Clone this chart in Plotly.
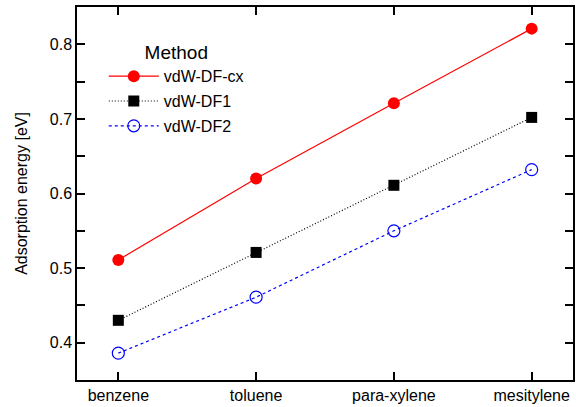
import plotly.graph_objects as go

molecules = ["benzene", "toluene", "para-xylene", "mesitylene"]
vdw_df_cx = [0.511, 0.620, 0.721, 0.821]
vdw_df1 = [0.430, 0.521, 0.611, 0.702]
vdw_df2 = [0.386, 0.461, 0.550, 0.632]

fig = go.Figure()
fig.add_trace(go.Scatter(x=molecules, y=vdw_df_cx, name="vdW-DF-cx", mode="lines+markers",
                         legendgroup="a",
                         line=dict(color="#ff0000", width=1.2, dash="solid"),
                         marker=dict(symbol="circle", size=12, color="#ff0000")))
fig.add_trace(go.Scatter(x=molecules, y=vdw_df1, name="vdW-DF1", mode="lines+markers",
                         legendgroup="b",
                         line=dict(color="#000000", width=1.2, dash="1px,2px"),
                         marker=dict(symbol="square", size=11, color="#000000")))
fig.add_trace(go.Scatter(x=molecules, y=vdw_df2, name="vdW-DF2", mode="lines+markers",
                         legendgroup="c",
                         line=dict(color="#0000ff", width=1.2, dash="3px,3px"),
                         marker=dict(symbol="circle-open", size=12, color="#0000ff",
                                     line=dict(width=1.2, color="#0000ff"))))

fig.update_layout(
    width=576, height=407,
    margin=dict(l=77, r=1, t=7, b=27),
    paper_bgcolor="white", plot_bgcolor="white",
    font=dict(family="Liberation Sans, Arial, sans-serif", size=16, color="black"),
    showlegend=True,
    legend=dict(x=0.054, y=0.926, xanchor="left", yanchor="top",
                title=dict(text="Method", side="top center"),
                bgcolor="rgba(0,0,0,0)", font=dict(size=16), itemwidth=50,
                tracegroupgap=1),
)
fig.update_xaxes(type="category", range=[-0.3, 3.3], showgrid=False, zeroline=False,
                 showline=True, linecolor="black", linewidth=1.5, mirror="ticks",
                 ticks="inside", ticklen=8, tickcolor="black", tickwidth=1.5,
                 tickfont=dict(size=16))
fig.update_yaxes(range=[0.35, 0.85], dtick=0.1, showgrid=False, zeroline=False,
                 showline=True, linecolor="black", linewidth=1.5, mirror="ticks",
                 ticks="inside", ticklen=8, tickcolor="black", tickwidth=1.5,
                 tickformat=".1f", tickfont=dict(size=16),
                 minor=dict(dtick=0.05, ticks="inside", ticklen=8, tickcolor="black", tickwidth=1.5),
                 title=dict(text="Adsorption energy [eV]", font=dict(size=16), standoff=18))

fig.write_html("out.html", config={"displayModeBar": False},
               post_script="document.body.style.margin='0';document.body.style.padding='0';")
